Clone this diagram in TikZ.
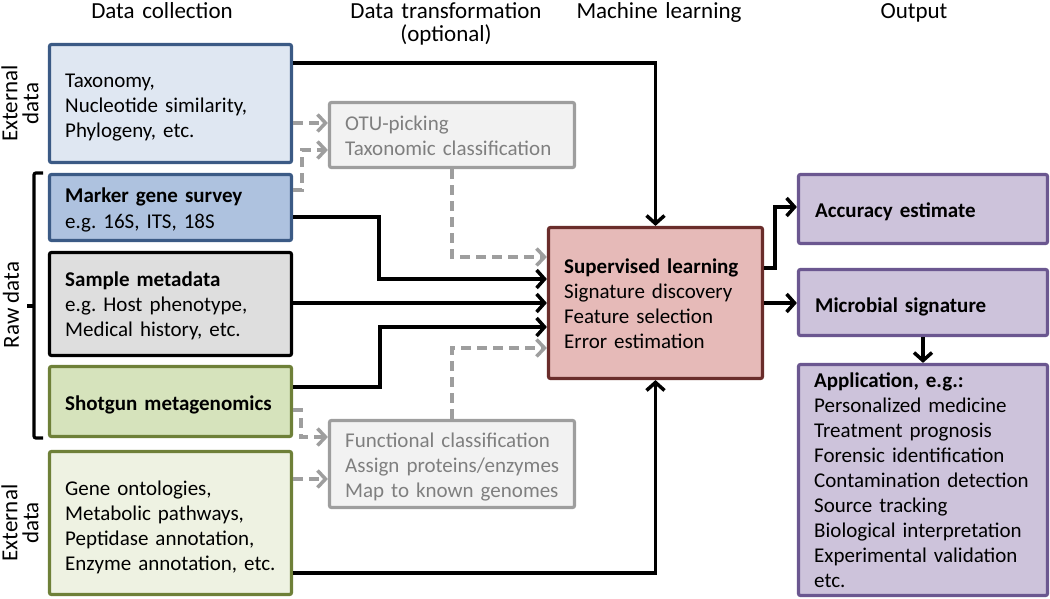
\documentclass[tikz,border=0pt]{standalone}
\usepackage{fontspec}
\setmainfont{Carlito}
\frenchspacing
\usetikzlibrary{arrows.meta}
\definecolor{bluedark}{HTML}{3B5A85}
\definecolor{bluelight}{HTML}{DFE7F2}
\definecolor{bluemid}{HTML}{AEC2DF}
\definecolor{graybox}{HTML}{DEDEDE}
\definecolor{olivedark}{HTML}{6E8038}
\definecolor{olivemid}{HTML}{D6E3BC}
\definecolor{olivelight}{HTML}{EEF2E2}
\definecolor{transfill}{HTML}{F2F2F2}
\definecolor{transdraw}{HTML}{9E9E9E}
\definecolor{transtext}{HTML}{7F7F7F}
\definecolor{mlfill}{HTML}{E6BAB8}
\definecolor{mldraw}{HTML}{6A2D2B}
\definecolor{outfill}{HTML}{CDC3DB}
\definecolor{outdraw}{HTML}{6B5790}
\begin{document}
\begin{tikzpicture}[x=1pt,y=-1pt,
  box/.style={draw, line width=3.2pt, rounded corners=2pt, inner sep=0pt},
  txt/.style={anchor=base west, inner sep=0pt, text width=235pt, align=left,
    font=\fontsize{21}{25}\selectfont},
  hdr/.style={anchor=base, inner sep=0pt, text width=230pt, align=center,
    font=\fontsize{23}{23}\selectfont},
  side/.style={inner sep=0pt, rotate=90, align=center,
    font=\fontsize{23}{21}\selectfont},
  conn/.style={line width=3.5pt, -{Straight Barb[length=8pt,width=18pt]}},
  dconn/.style={line width=3.5pt, draw=transdraw, dash pattern=on 10pt off 6pt,
    -{Straight Barb[length=8pt,width=17pt]}}
]
\useasboundingbox (0,0) rectangle (1050,599);

% headers
\node[hdr] (h1) at (162,19) {Data collection};
\node[hdr] (h2) at (446,19) {Data transformation\\(optional)};
\node[hdr] (h3) at (659,19) {Machine learning};
\node[hdr] (h4) at (914,19) {Output};

% side labels
\node[side] (ext1) at (20,103.5) {External\\data};
\node[side] (ext2) at (20,523) {External\\data};
\node[side, anchor=base] (raw) at (19,305) {Raw data};
\draw[line width=3.2pt, rounded corners=2pt] (43,173) -- (34,173) -- (34,438) -- (43,438);
\draw[line width=3.2pt] (34,306) -- (27,306);

% data collection boxes
\node[box, fill=bluelight, draw=bluedark, minimum width=242pt, minimum height=118pt] (A) at (170.5,103.5) {};
\node[box, fill=bluemid, draw=bluedark, minimum width=242pt, minimum height=66pt] (B) at (170.5,207.5) {};
\node[box, fill=graybox, draw=black, minimum width=242pt, minimum height=103pt] (C) at (170.5,304) {};
\node[box, fill=olivemid, draw=olivedark, minimum width=242pt, minimum height=70pt] (D) at (170.5,401.5) {};
\node[box, fill=olivelight, draw=olivedark, minimum width=242pt, minimum height=143pt] (E) at (170.5,523) {};

% transformation boxes
\node[box, fill=transfill, draw=transdraw, minimum width=245pt, minimum height=65pt] (F) at (452,135) {};
\node[box, fill=transfill, draw=transdraw, minimum width=245pt, minimum height=87pt] (G) at (452,464) {};

% machine learning box
\node[box, fill=mlfill, draw=mldraw, minimum width=214pt, minimum height=151pt] (H) at (655.5,303) {};

% output boxes
\node[box, fill=outfill, draw=outdraw, minimum width=249pt, minimum height=69pt] (I) at (923,209) {};
\node[box, fill=outfill, draw=outdraw, minimum width=249pt, minimum height=66pt] (J) at (923,302.5) {};
\node[box, fill=outfill, draw=outdraw, minimum width=249pt, minimum height=231pt] (K) at (923,480) {};

% texts
\node[txt] (tA) at (65,88) {Taxonomy,\\Nucleotide similarity,\\Phylogeny, etc.};
\node[txt] (tB) at (65,203) {\textbf{Marker gene survey}\\e.g. 16S, ITS, 18S};
\node[txt] (tC) at (65,286) {\textbf{Sample metadata}\\e.g. Host phenotype,\\Medical history, etc.};
\node[txt] (tD) at (65,410) {\textbf{Shotgun metagenomics}};
\node[txt] (tE) at (65,495) {Gene ontologies,\\Metabolic pathways,\\Peptidase annotation,\\Enzyme annotation, etc.};
\node[txt, text=transtext] (tF) at (345,131) {OTU-picking\\Taxonomic classification};
\node[txt, text=transtext] (tG) at (345,447) {Functional classification\\Assign proteins/enzymes\\Map to known genomes};
\node[txt] (tH) at (564,273) {\textbf{Supervised learning}\\Signature discovery\\Feature selection\\Error estimation};
\node[txt, text width=225pt] (tI) at (815,217) {\textbf{Accuracy estimate}};
\node[txt, text width=225pt] (tJ) at (815,312) {\textbf{Microbial signature}};
\node[txt, text width=225pt] (tK) at (814,387) {\textbf{Application, e.g.:}\\Personalized medicine\\Treatment prognosis\\Forensic identification\\Contamination detection\\Source tracking\\Biological interpretation\\Experimental validation\\etc.};

% solid connectors
\draw[conn] (A.east |- 0,63) -| (H.north);
\draw[conn] (B.east |- 0,217) -| (379,279) -- (H.west |- 0,279);
\draw[conn] (C.east |- 0,303) -- (H.west |- 0,303);
\draw[conn] (D.east |- 0,387) -| (380,327) -- (H.west |- 0,327);
\draw[conn] (E.east |- 0,573) -| (H.south);
\draw[conn] (H.east |- 0,268) -| (775,207) -- (I.west |- 0,207);
\draw[conn] (H.east |- 0,303) -- (J.west |- 0,303);
\draw[conn] (J.south) -- (K.north);

% dashed connectors
\draw[dconn] (A.east |- 0,123) -- (F.west |- 0,123);
\draw[dconn] (B.east |- 0,190) -| (302,150) -- (F.west |- 0,150);
\draw[dconn] (F.south) |- (H.west |- 0,257);
\draw[dconn] (D.east |- 0,410) -| (301,437) -- (G.west |- 0,437);
\draw[dconn] (E.east |- 0,479) -- (G.west |- 0,479);
\draw[dconn] (G.north) |- (H.west |- 0,348);
\end{tikzpicture}
\end{document}
